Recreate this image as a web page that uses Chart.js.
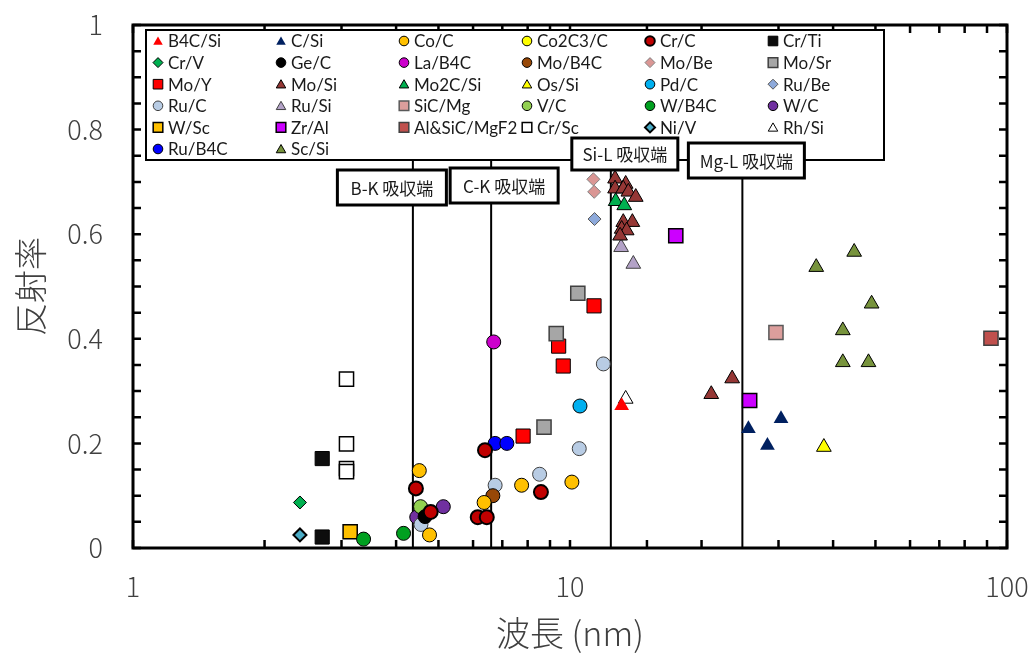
<!DOCTYPE html>
<html lang="ja">
<head>
<meta charset="UTF-8">
<title>多層膜ミラーの反射率</title>
<script src="https://cdn.jsdelivr.net/npm/chart.js"></script>
<style>
  html, body { margin: 0; padding: 0; background: #fff; }
  canvas { display: block; }
</style>
</head>
<body>
<canvas id="chart" width="1034" height="660"></canvas>
<script>
// データ: [波長 (nm), 反射率]
const b4cSi = [[13.13, 0.272]];
const cSi = [[25.6, 0.228], [30.4, 0.247], [28.3, 0.196]];
const coC = [[4.52, 0.148], [4.77, 0.025], [6.36, 0.087], [7.75, 0.12], [10.1, 0.126]];
const co2c3C = [];
const crC = [[4.44, 0.114], [4.80, 0.069], [6.39, 0.187], [6.15, 0.059], [6.45, 0.059], [8.58, 0.107]];
const crTi = [[2.71, 0.171], [2.71, 0.021]];
const crV = [[2.41, 0.087]];
const geC = [[4.66, 0.06]];
const laB4C = [[6.69, 0.394]];
const moB4C = [[6.66, 0.100]];
const moBe = [[11.31, 0.705], [11.36, 0.681]];
const moSr = [[8.72, 0.231], [9.30, 0.41], [10.42, 0.487]];
const moY = [[7.81, 0.214], [9.42, 0.386], [9.65, 0.348], [11.35, 0.463]];
const moSi = [[12.68, 0.706], [13.41, 0.696], [12.68, 0.687], [13.24, 0.687], [13.60, 0.681],
              [14.14, 0.671], [13.24, 0.623], [13.89, 0.623], [13.13, 0.610], [13.48, 0.607],
              [13.02, 0.597], [23.5, 0.324], [21.05, 0.294]];
const mo2cSi = [[12.72, 0.663], [13.31, 0.655]];
const osSi = [[38.1, 0.193]];
const pdC = [[10.54, 0.2715]];
const ruBe = [[11.38, 0.629]];
const ruC = [[4.56, 0.045], [6.74, 0.12], [8.52, 0.141], [10.5, 0.19], [11.92, 0.352]];
const ruSi = [[13.09, 0.575], [13.96, 0.543]];
const sicMg = [[29.6, 0.412]];
const vC = [[4.55, 0.079]];
const wB4C = [[3.37, 0.017], [4.16, 0.028]];
const wC = [[5.13, 0.079], [4.46, 0.059]];
const wSc = [[3.14, 0.031]];
const zrAl = [[17.46, 0.597], [25.77, 0.282]];
const alSicMgF2 = [[91.9, 0.401]];
const crSc = [[3.08, 0.323], [3.08, 0.199], [3.08, 0.152], [3.08, 0.146]];
const niV = [[2.41, 0.025]];
const rhSi = [[13.41, 0.285]];
const ruB4C = [[6.74, 0.200], [7.17, 0.200]];
const scSi = [[44.7, 0.566], [36.6, 0.537], [49.0, 0.467], [42.1, 0.416], [42.1, 0.355], [48.2, 0.355]];

const seriesNames = ['B4C/Si', 'C/Si', 'Co/C', 'Co2C3/C', 'Cr/C', 'Cr/Ti',
                     'Cr/V', 'Ge/C', 'La/B4C', 'Mo/B4C', 'Mo/Be', 'Mo/Sr',
                     'Mo/Y', 'Mo/Si', 'Mo2C/Si', 'Os/Si', 'Pd/C', 'Ru/Be',
                     'Ru/C', 'Ru/Si', 'SiC/Mg', 'V/C', 'W/B4C', 'W/C',
                     'W/Sc', 'Zr/Al', 'Al&SiC/MgF2', 'Cr/Sc', 'Ni/V', 'Rh/Si',
                     'Ru/B4C', 'Sc/Si'];
const seriesData = [b4cSi, cSi, coC, co2c3C, crC, crTi,
                    crV, geC, laB4C, moB4C, moBe, moSr,
                    moY, moSi, mo2cSi, osSi, pdC, ruBe,
                    ruC, ruSi, sicMg, vC, wB4C, wC,
                    wSc, zrAl, alSicMgF2, crSc, niV, rhSi,
                    ruB4C, scSi];

// 吸収端
const edgeNames = ['B-K 吸収端', 'C-K 吸収端', 'Si-L 吸収端', 'Mg-L 吸収端'];
const edgeWavelengths = [4.37, 6.6, 12.4, 24.8];

// 目盛りラベル
const xTickLabels = [1, 10, 100];

// マーカーの見た目 [形, 塗り, 枠, 枠線幅]
const seriesStyle = [
  ['triangle', '#ff0000', '#ff0000', 0], ['triangle', '#002060', '#002060', 0],
  ['circle', '#ffc000', '#000', 1], ['circle', '#ffff00', '#000', 1],
  ['circle', '#c00000', '#000', 2], ['rect', '#0d0d0d', '#000', 1],
  ['rectRot', '#00b050', '#000', 1], ['circle', '#000000', '#000', 1],
  ['circle', '#cc00cc', '#000', 1], ['circle', '#984807', '#000', 1],
  ['rectRot', '#da9694', '#808080', 1], ['rect', '#a6a6a6', '#404040', 1.5],
  ['rect', '#ff0000', '#000', 1], ['triangle', '#953735', '#000', 1],
  ['triangle', '#00b050', '#000', 1], ['triangle', '#ffff00', '#000', 1],
  ['circle', '#00b0f0', '#000', 1], ['rectRot', '#8eaadb', '#595959', 1],
  ['circle', '#b8cce4', '#404040', 1], ['triangle', '#b3a2c7', '#404040', 1],
  ['rect', '#dc9e9c', '#595959', 1.5], ['circle', '#92d050', '#000', 1],
  ['circle', '#00a020', '#000', 1], ['circle', '#7030a0', '#000', 1],
  ['rect', '#ffc000', '#000', 1.5], ['rect', '#cc00ff', '#000', 1.5],
  ['rect', '#c0504d', '#404040', 1.5], ['rect', '#ffffff', '#000', 1.5],
  ['rectRot', '#4bacc6', '#000', 2], ['triangle', '#ffffff', '#000', 1],
  ['circle', '#0000ff', '#000', 1], ['triangle', '#77933c', '#000', 1]
];

const plotRadius = { circle: 7, rect: 10, triangle: 8.5, rectRot: 6.5 };
const legendRadius = { circle: 4.8, rect: 6.8, triangle: 5.5, rectRot: 5 };

const axisColor = '#404040';
const cjkFont = '"Noto Sans CJK JP", "Noto Sans", sans-serif';

const datasets = seriesNames.map((name, i) => {
  const [shape, fill, border, bw] = seriesStyle[i];
  return {
    label: name,
    data: seriesData[i].map(p => ({ x: p[0], y: p[1] })),
    pointStyle: shape,
    pointRadius: plotRadius[shape],
    pointHoverRadius: plotRadius[shape],
    pointBackgroundColor: fill,
    pointBorderColor: border,
    pointBorderWidth: bw,
    showLine: false
  };
});

const legendBox = { left: 146, top: 30, right: 884, bottom: 160 };
const legendCols = [158, 281, 404, 527, 650, 773];
const legendRowTop = 41, legendRowStep = 21.6;

// 吸収端ラベルの箱 (線からのずれ, 上端, 幅, 高さ)
const edgeBoxes = [
  { dx: -21, top: 170, w: 109, h: 35 },
  { dx: 13, top: 168, w: 108, h: 35 },
  { dx: 14, top: 138, w: 106, h: 32 },
  { dx: 4, top: 143, w: 116, h: 35 }
];

const framePlugin = {
  id: 'frame',
  beforeDatasetsDraw(chart) {
    const { ctx, scales: { x, y } } = chart;
    ctx.save();
    ctx.strokeStyle = '#000';
    ctx.lineWidth = 2;
    edgeWavelengths.forEach(w => {
      const px = x.getPixelForValue(w);
      ctx.beginPath();
      ctx.moveTo(px, y.getPixelForValue(0));
      ctx.lineTo(px, legendBox.bottom);
      ctx.stroke();
    });
    ctx.restore();
  },
  afterDraw(chart) {
    const { ctx, chartArea: a, scales: { x, y } } = chart;
    ctx.save();

    // 内向きの目盛り
    ctx.strokeStyle = '#000';
    ctx.lineWidth = 2.5;
    const tl = 8;
    y.ticks.forEach(t => {
      const py = y.getPixelForValue(t.value);
      ctx.beginPath();
      ctx.moveTo(a.left, py); ctx.lineTo(a.left + tl, py);
      ctx.moveTo(a.right, py); ctx.lineTo(a.right - tl, py);
      ctx.stroke();
    });
    x.ticks.forEach(t => {
      const px = x.getPixelForValue(t.value);
      ctx.beginPath();
      ctx.moveTo(px, a.bottom); ctx.lineTo(px, a.bottom - tl);
      ctx.moveTo(px, a.top); ctx.lineTo(px, a.top + tl);
      ctx.stroke();
    });

    // 枠
    ctx.lineWidth = 3;
    ctx.strokeRect(a.left, a.top, a.right - a.left, a.bottom - a.top);

    // 凡例
    ctx.fillStyle = '#fff';
    ctx.fillRect(legendBox.left, legendBox.top, legendBox.right - legendBox.left, legendBox.bottom - legendBox.top);
    ctx.lineWidth = 2;
    ctx.strokeStyle = '#000';
    ctx.strokeRect(legendBox.left, legendBox.top, legendBox.right - legendBox.left, legendBox.bottom - legendBox.top);

    chart.data.datasets.forEach((ds, i) => {
      const cx = legendCols[i % 6];
      const cy = legendRowTop + Math.floor(i / 6) * legendRowStep;
      const r = legendRadius[ds.pointStyle];
      ctx.fillStyle = ds.pointBackgroundColor;
      ctx.strokeStyle = ds.pointBorderColor;
      ctx.lineWidth = ds.pointBorderWidth;
      Chart.helpers.drawPoint(ctx, {
        pointStyle: ds.pointStyle, radius: r, rotation: 0, borderWidth: ds.pointBorderWidth
      }, cx, ds.pointStyle === 'triangle' ? cy + 1 : cy);
      ctx.fillStyle = '#1a1a1a';
      ctx.font = '17px Lato, "Liberation Sans", sans-serif';
      ctx.textAlign = 'left';
      ctx.textBaseline = 'middle';
      ctx.fillText(ds.label, cx + 10, cy + 1);
    });

    // 吸収端ラベル
    edgeNames.forEach((name, i) => {
      const b = edgeBoxes[i];
      const cx = x.getPixelForValue(edgeWavelengths[i]) + b.dx;
      ctx.fillStyle = '#fff';
      ctx.fillRect(cx - b.w / 2, b.top, b.w, b.h);
      ctx.strokeStyle = '#000';
      ctx.lineWidth = 3;
      ctx.strokeRect(cx - b.w / 2, b.top, b.w, b.h);
      ctx.fillStyle = '#1a1a1a';
      ctx.font = '17px ' + cjkFont;
      ctx.textAlign = 'center';
      ctx.textBaseline = 'middle';
      ctx.fillText(name, cx, b.top + b.h / 2 + 1);
    });

    ctx.restore();
  }
};

new Chart(document.getElementById('chart'), {
  type: 'scatter',
  data: { datasets },
  options: {
    responsive: false,
    animation: false,
    events: [],
    layout: { padding: { top: 25, right: 27, left: 0, bottom: 0 } },
    scales: {
      x: {
        type: 'logarithmic',
        min: 1,
        max: 100,
        afterFit: s => { s.height = 112; s.paddingLeft = 0; s.paddingRight = 0; },
        grid: { display: false, drawTicks: false },
        border: { display: false },
        ticks: {
          autoSkip: false,
          maxRotation: 0,
          padding: 23,
          color: axisColor,
          font: { family: cjkFont, size: 27, weight: 300 },
          callback: v => xTickLabels.includes(Math.round(v * 1000) / 1000) ? String(Math.round(v)) : ''
        },
        title: {
          display: true,
          text: '波長 (nm)',
          color: axisColor,
          font: { family: cjkFont, size: 34, weight: 300 },
          padding: { top: 0, bottom: 7 }
        }
      },
      y: {
        min: 0,
        max: 1,
        afterFit: s => { s.width = 133; s.paddingTop = 0; s.paddingBottom = 0; },
        grid: { display: false, drawTicks: false },
        border: { display: false },
        ticks: {
          stepSize: 0.05,
          autoSkip: false,
          padding: 30,
          color: axisColor,
          font: { family: cjkFont, size: 27, weight: 300 },
          callback: v => {
            const k = Math.round(v * 20);
            return k % 4 === 0 ? String(k / 20) : '';
          }
        },
        title: {
          display: true,
          text: '反射率',
          color: axisColor,
          font: { family: cjkFont, size: 33, weight: 300 },
          padding: { top: 11, bottom: 0 }
        }
      }
    },
    plugins: {
      legend: { display: false },
      tooltip: { enabled: false }
    }
  },
  plugins: [framePlugin]
});
</script>
</body>
</html>
